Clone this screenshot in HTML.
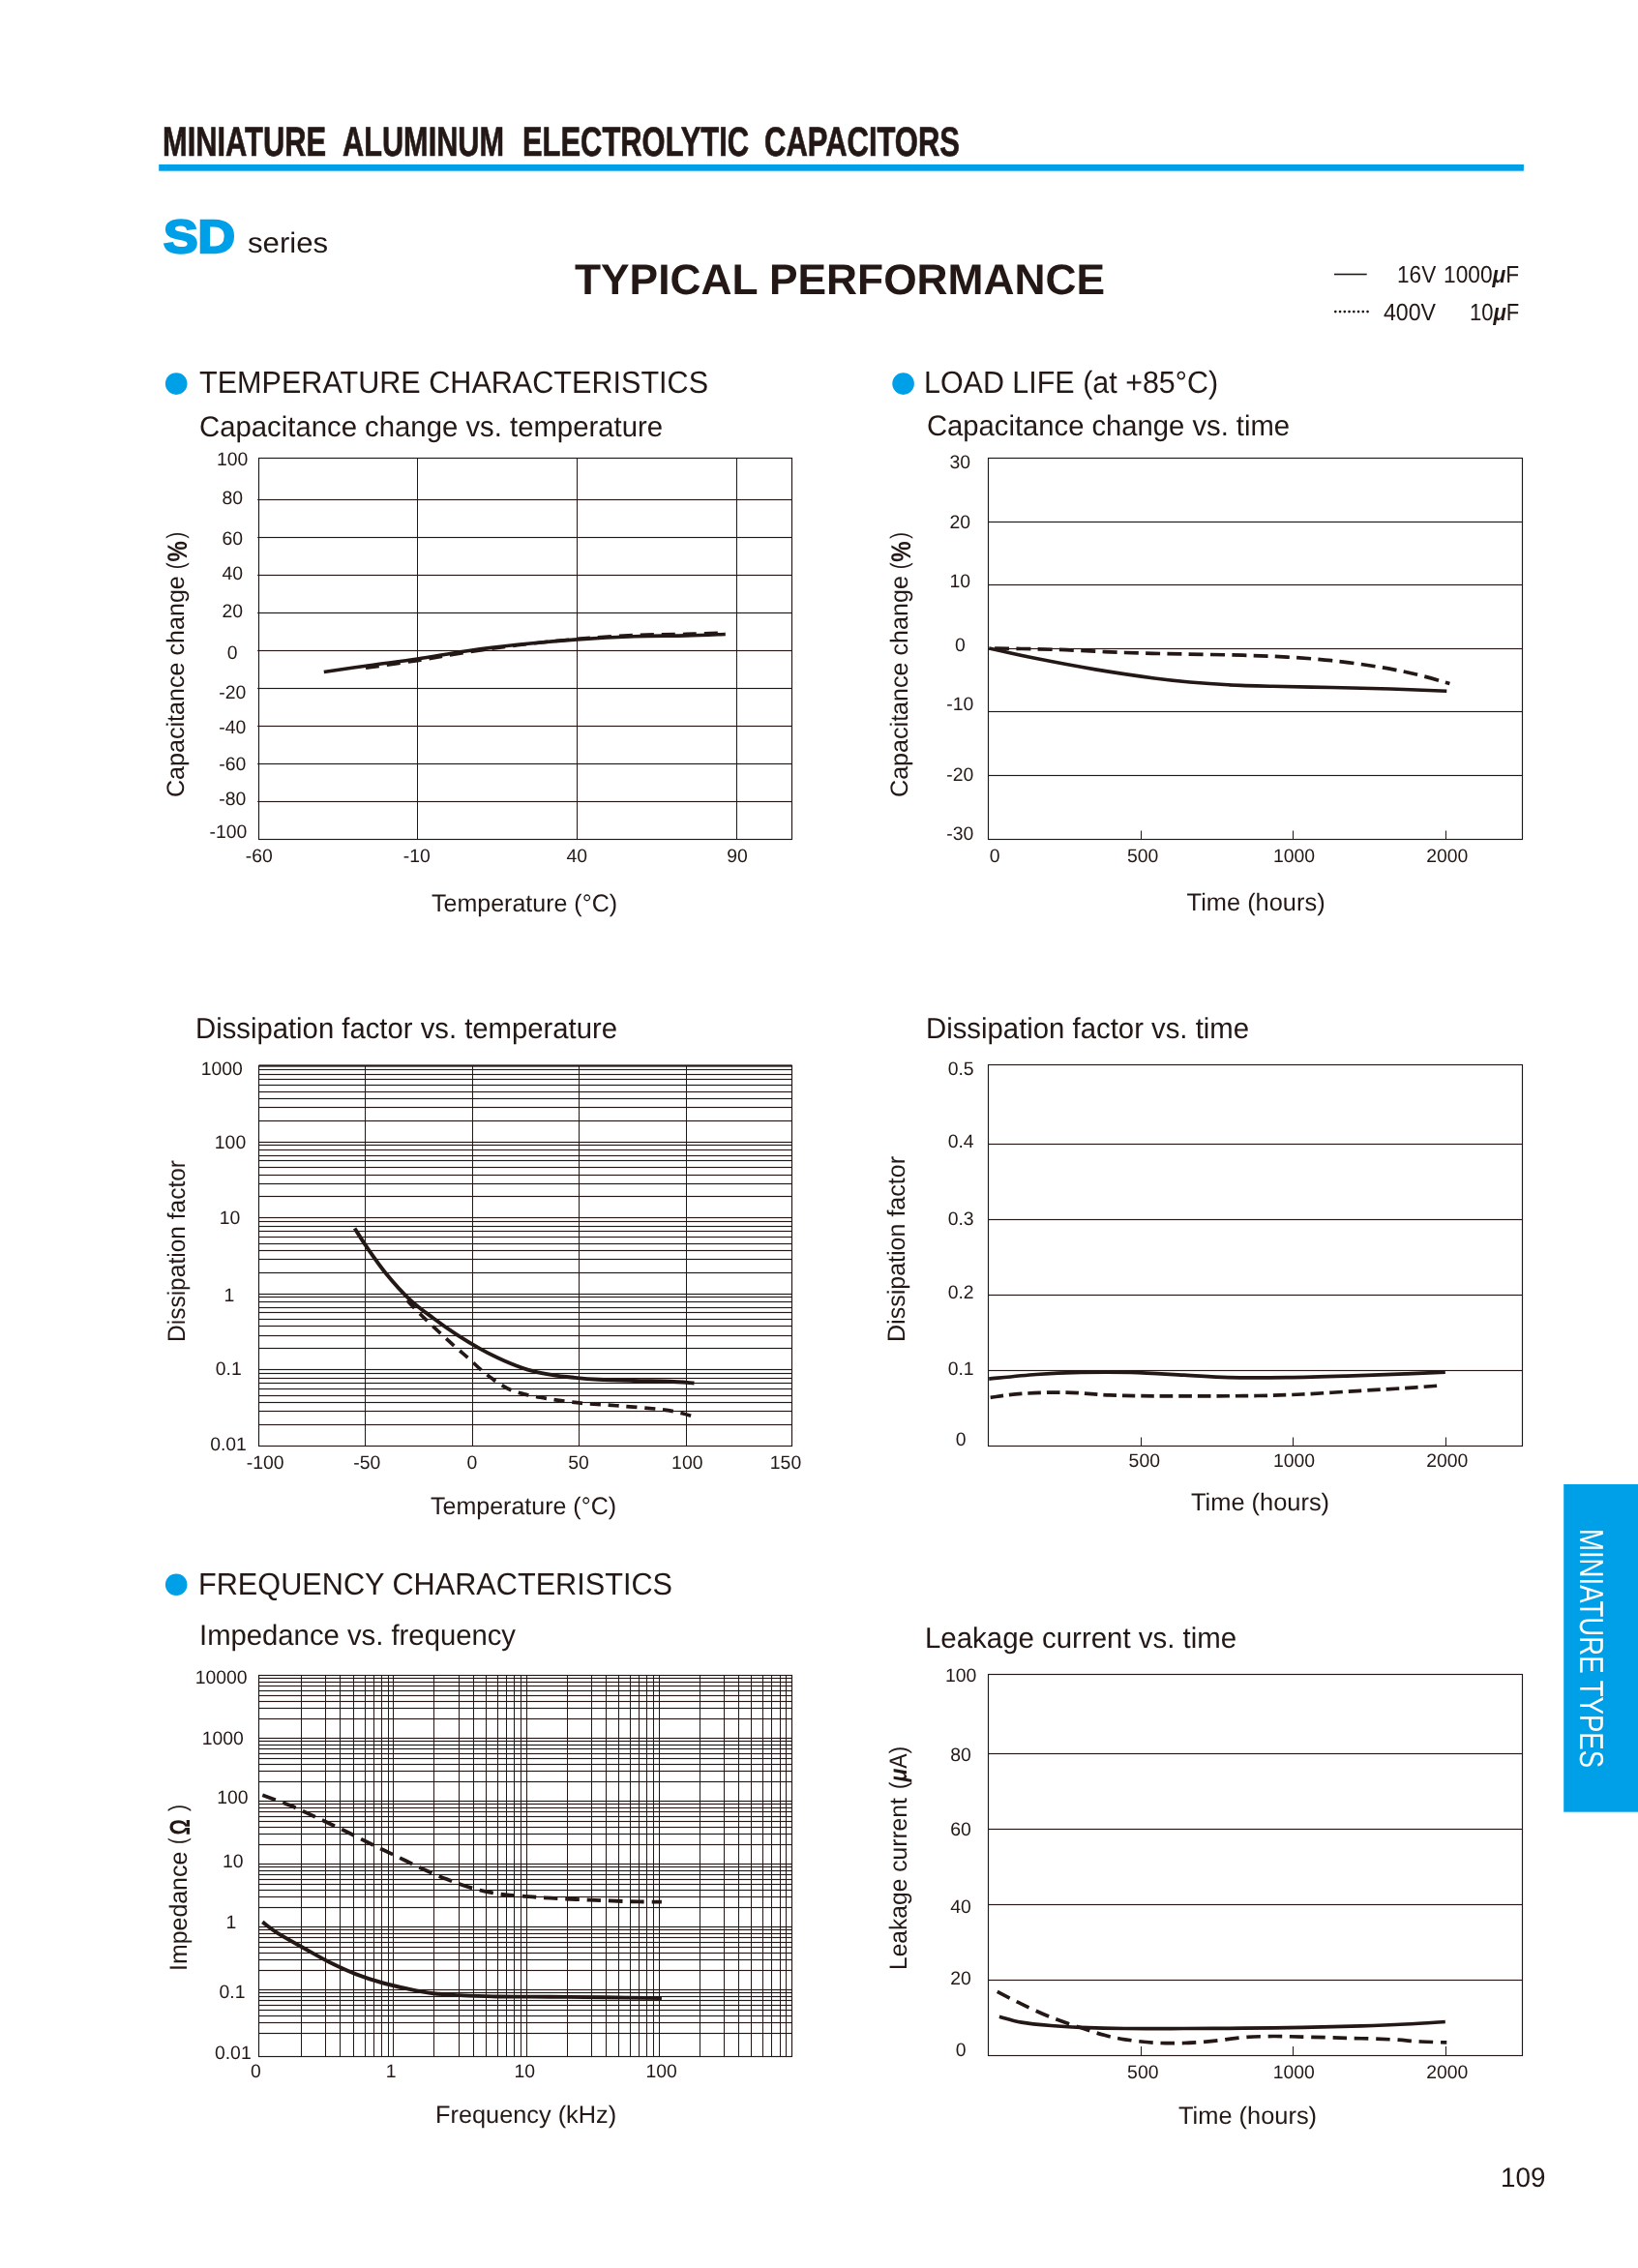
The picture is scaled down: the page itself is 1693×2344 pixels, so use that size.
<!DOCTYPE html>
<html><head><meta charset="utf-8"><title>SD series - Typical performance</title>
<style>html,body{margin:0;padding:0;background:#fff}svg{display:block;font-family:"Liberation Sans",sans-serif;will-change:transform;text-rendering:geometricPrecision}</style></head><body>
<svg width="1693" height="2344" viewBox="0 0 1693 2344">
<rect x="0" y="0" width="1693" height="2344" fill="#fff"/>
<g fill="#231815">
<text x="168" y="160.8" font-size="42.6" textLength="169.06" lengthAdjust="spacingAndGlyphs" font-weight="bold" stroke="#231815" stroke-width="0.7" stroke-linejoin="miter">MINIATURE</text>
<text x="354" y="160.8" font-size="42.6" textLength="167.06" lengthAdjust="spacingAndGlyphs" font-weight="bold" stroke="#231815" stroke-width="0.7" stroke-linejoin="miter">ALUMINUM</text>
<text x="540" y="160.8" font-size="42.6" textLength="234.05" lengthAdjust="spacingAndGlyphs" font-weight="bold" stroke="#231815" stroke-width="0.7" stroke-linejoin="miter">ELECTROLYTIC</text>
<text x="790" y="160.8" font-size="42.6" textLength="202.03" lengthAdjust="spacingAndGlyphs" font-weight="bold" stroke="#231815" stroke-width="0.7" stroke-linejoin="miter">CAPACITORS</text>
<rect x="164.2" y="169.9" width="1410.7" height="6.8" fill="#00a0e9"/>
<text x="169" y="261.4" font-size="48" textLength="74.04" lengthAdjust="spacingAndGlyphs" font-weight="bold" fill="#00a0e9" stroke="#00a0e9" stroke-width="2.4">SD</text>
<text x="256" y="261.2" font-size="29.6" textLength="83.14" lengthAdjust="spacingAndGlyphs">series</text>
<text x="594" y="304.1" font-size="44.2" textLength="548.01" lengthAdjust="spacingAndGlyphs" font-weight="bold">TYPICAL PERFORMANCE</text>
<rect x="1379" y="282.7" width="33.7" height="1.6"/>
<text x="1444" y="292.4" font-size="24.6" textLength="40.23" lengthAdjust="spacingAndGlyphs">16V</text>
<text x="1492" y="292.4" font-size="24.6" textLength="78.13" lengthAdjust="spacingAndGlyphs">1000<tspan font-style="italic" font-weight="bold">&#956;</tspan>F</text>
<circle cx="1380.3" cy="322.1" r="1.35" fill="#231815"/>
<circle cx="1385.05" cy="322.1" r="1.35" fill="#231815"/>
<circle cx="1389.8" cy="322.1" r="1.35" fill="#231815"/>
<circle cx="1394.55" cy="322.1" r="1.35" fill="#231815"/>
<circle cx="1399.3" cy="322.1" r="1.35" fill="#231815"/>
<circle cx="1404.05" cy="322.1" r="1.35" fill="#231815"/>
<circle cx="1408.8" cy="322.1" r="1.35" fill="#231815"/>
<circle cx="1413.55" cy="322.1" r="1.35" fill="#231815"/>
<text x="1430" y="330.5" font-size="24.6" textLength="54.06" lengthAdjust="spacingAndGlyphs">400V</text>
<text x="1519" y="330.5" font-size="24.6" textLength="51.23" lengthAdjust="spacingAndGlyphs">10<tspan font-style="italic" font-weight="bold">&#956;</tspan>F</text>
<circle cx="182.2" cy="396.6" r="11.3" fill="#00a0e9"/>
<text x="206" y="405.8" font-size="32" textLength="526.02" lengthAdjust="spacingAndGlyphs">TEMPERATURE CHARACTERISTICS</text>
<text x="206" y="450.5" font-size="29.8" textLength="479.05" lengthAdjust="spacingAndGlyphs">Capacitance change vs. temperature</text>
<circle cx="182.2" cy="1637.7" r="11.3" fill="#00a0e9"/>
<text x="205" y="1647.6" font-size="32" textLength="490.02" lengthAdjust="spacingAndGlyphs">FREQUENCY CHARACTERISTICS</text>
<text x="206" y="1699.6" font-size="29.8" textLength="327.01" lengthAdjust="spacingAndGlyphs">Impedance vs. frequency</text>
<circle cx="933.6" cy="396.6" r="11.3" fill="#00a0e9"/>
<text x="955" y="405.8" font-size="32" textLength="304.08" lengthAdjust="spacingAndGlyphs">LOAD LIFE (at +85&#176;C)</text>
<text x="958" y="450" font-size="29.8" textLength="375.05" lengthAdjust="spacingAndGlyphs">Capacitance change vs. time</text>
<text x="202" y="1072.9" font-size="30.2" textLength="436.02" lengthAdjust="spacingAndGlyphs">Dissipation factor vs. temperature</text>
<text x="957" y="1072.7" font-size="30.2" textLength="334.06" lengthAdjust="spacingAndGlyphs">Dissipation factor vs. time</text>
<text x="956" y="1702.6" font-size="30.2" textLength="322.05" lengthAdjust="spacingAndGlyphs">Leakage current vs. time</text>
<rect x="267.8" y="515.92" width="551" height="1.15"/>
<rect x="266.2" y="515.92" width="1.6" height="1.15"/>
<rect x="267.8" y="554.92" width="551" height="1.15"/>
<rect x="266.2" y="554.92" width="1.6" height="1.15"/>
<rect x="267.8" y="593.92" width="551" height="1.15"/>
<rect x="266.2" y="593.92" width="1.6" height="1.15"/>
<rect x="267.8" y="632.92" width="551" height="1.15"/>
<rect x="266.2" y="632.92" width="1.6" height="1.15"/>
<rect x="267.8" y="671.92" width="551" height="1.15"/>
<rect x="266.2" y="671.92" width="1.6" height="1.15"/>
<rect x="267.8" y="710.92" width="551" height="1.15"/>
<rect x="266.2" y="710.92" width="1.6" height="1.15"/>
<rect x="267.8" y="749.92" width="551" height="1.15"/>
<rect x="266.2" y="749.92" width="1.6" height="1.15"/>
<rect x="267.8" y="788.92" width="551" height="1.15"/>
<rect x="266.2" y="788.92" width="1.6" height="1.15"/>
<rect x="267.8" y="827.92" width="551" height="1.15"/>
<rect x="266.2" y="827.92" width="1.6" height="1.15"/>
<rect x="431" y="473.7" width="1" height="393.4"/>
<rect x="596" y="473.7" width="1" height="393.4"/>
<rect x="761" y="473.7" width="1" height="393.4"/>
<rect x="267.5" y="473.5" width="551" height="394" fill="none" stroke="#231815" stroke-width="1.15"/>
<text x="240.2" y="480.9" font-size="19.4" text-anchor="middle">100</text>
<text x="240.2" y="520.9" font-size="19.4" text-anchor="middle">80</text>
<text x="240.2" y="563" font-size="19.4" text-anchor="middle">60</text>
<text x="240.2" y="599.2" font-size="19.4" text-anchor="middle">40</text>
<text x="240.2" y="638.4" font-size="19.4" text-anchor="middle">20</text>
<text x="240.2" y="680.7" font-size="19.4" text-anchor="middle">0</text>
<text x="240.2" y="721.6" font-size="19.4" text-anchor="middle">-20</text>
<text x="240.2" y="758.3" font-size="19.4" text-anchor="middle">-40</text>
<text x="240.2" y="795.8" font-size="19.4" text-anchor="middle">-60</text>
<text x="240.2" y="832.4" font-size="19.4" text-anchor="middle">-80</text>
<text x="236" y="866.1" font-size="19.4" text-anchor="middle">-100</text>
<text x="267.8" y="891.3" font-size="19.4" text-anchor="middle">-60</text>
<text x="430.8" y="891.3" font-size="19.4" text-anchor="middle">-10</text>
<text x="596.2" y="891.3" font-size="19.4" text-anchor="middle">40</text>
<text x="762" y="891.3" font-size="19.4" text-anchor="middle">90</text>
<text x="446" y="941.8" font-size="25.3" textLength="192.06" lengthAdjust="spacingAndGlyphs">Temperature (&#176;C)</text>
<text x="190.4" y="824" font-size="25.3" textLength="228.85" lengthAdjust="spacingAndGlyphs" transform="rotate(-90 190.4 824)">Capacitance change</text>
<text x="190" y="588.16" font-size="25.3" textLength="6.79" lengthAdjust="spacingAndGlyphs" transform="rotate(-90 190 588.16)">(</text>
<text x="193" y="580.6" font-size="28.5" textLength="21.32" lengthAdjust="spacingAndGlyphs" font-weight="bold" transform="rotate(-90 193 580.6)">%</text>
<text x="190" y="556.62" font-size="25.3" textLength="6.79" lengthAdjust="spacingAndGlyphs" transform="rotate(-90 190 556.62)">)</text>
<path d="M334.8 694.5C342.63 693.37 365.68 689.95 381.8 687.7C397.92 685.45 414.93 683.45 431.5 681C448.07 678.55 463.97 675.45 481.2 673C498.43 670.55 515.65 668.32 534.9 666.3C554.15 664.28 576.55 662.33 596.7 660.9C616.85 659.47 637 658.37 655.8 657.7C674.6 657.03 693.83 657.27 709.5 656.9C725.17 656.53 743.08 655.73 749.8 655.5" fill="none" stroke="#231815" stroke-width="3.6"/>
<path d="M378 690.4C386.92 689.12 414.3 685.37 431.5 682.7C448.7 680.03 463.97 677.03 481.2 674.4C498.43 671.77 515.65 669.25 534.9 666.9C554.15 664.55 576.55 662.05 596.7 660.3C616.85 658.55 637 657.23 655.8 656.4C674.6 655.57 693.83 655.72 709.5 655.3C725.17 654.88 743.08 654.13 749.8 653.9" fill="none" stroke="#231815" stroke-width="3.4" stroke-dasharray="14 8"/>
<rect x="1021.6" y="538.92" width="551.9" height="1.15"/>
<rect x="1021.6" y="603.92" width="551.9" height="1.15"/>
<rect x="1021.6" y="669.92" width="551.9" height="1.15"/>
<rect x="1021.6" y="734.92" width="551.9" height="1.15"/>
<rect x="1021.6" y="800.92" width="551.9" height="1.15"/>
<rect x="1179" y="858.5" width="1" height="8.5"/>
<rect x="1336" y="858.5" width="1" height="8.5"/>
<rect x="1494" y="858.5" width="1" height="8.5"/>
<rect x="1021.5" y="473.5" width="552" height="394" fill="none" stroke="#231815" stroke-width="1.15"/>
<text x="992.3" y="483.8" font-size="19.4" text-anchor="middle">30</text>
<text x="992.3" y="545.9" font-size="19.4" text-anchor="middle">20</text>
<text x="992.3" y="607" font-size="19.4" text-anchor="middle">10</text>
<text x="992.3" y="672.7" font-size="19.4" text-anchor="middle">0</text>
<text x="992.3" y="734.4" font-size="19.4" text-anchor="middle">-10</text>
<text x="992.3" y="807" font-size="19.4" text-anchor="middle">-20</text>
<text x="992.3" y="868.1" font-size="19.4" text-anchor="middle">-30</text>
<text x="1028.2" y="891.3" font-size="19.4" text-anchor="middle">0</text>
<text x="1181.1" y="891.3" font-size="19.4" text-anchor="middle">500</text>
<text x="1337.5" y="891.3" font-size="19.4" text-anchor="middle">1000</text>
<text x="1495.8" y="891.3" font-size="19.4" text-anchor="middle">2000</text>
<text x="1226.6" y="941.1" font-size="25.3" textLength="143.03" lengthAdjust="spacingAndGlyphs">Time (hours)</text>
<text x="938" y="824" font-size="25.3" textLength="228.85" lengthAdjust="spacingAndGlyphs" transform="rotate(-90 938 824)">Capacitance change</text>
<text x="937.6" y="588.26" font-size="25.3" textLength="6.79" lengthAdjust="spacingAndGlyphs" transform="rotate(-90 937.6 588.26)">(</text>
<text x="940.6" y="580.7" font-size="28.5" textLength="21.32" lengthAdjust="spacingAndGlyphs" font-weight="bold" transform="rotate(-90 940.6 580.7)">%</text>
<text x="937.6" y="556.72" font-size="25.3" textLength="6.79" lengthAdjust="spacingAndGlyphs" transform="rotate(-90 937.6 556.72)">)</text>
<path d="M1022.2 669.9C1030.33 671.68 1052.68 676.93 1071 680.6C1089.32 684.27 1111.73 688.5 1132.1 691.9C1152.47 695.3 1176.92 698.82 1193.2 701C1209.48 703.18 1217.08 703.87 1229.8 705C1242.52 706.13 1255.25 707.08 1269.5 707.8C1283.75 708.52 1297.5 708.85 1315.3 709.3C1333.1 709.75 1355.95 710.05 1376.3 710.5C1396.65 710.95 1417.57 711.38 1437.4 712C1457.23 712.62 1485.65 713.83 1495.3 714.2" fill="none" stroke="#231815" stroke-width="3.6"/>
<path d="M1022.2 669.9C1027.8 670 1042.57 670.2 1055.8 670.5C1069.03 670.8 1083.8 671.03 1101.6 671.7C1119.4 672.37 1142.25 673.78 1162.6 674.5C1182.95 675.22 1203.35 675.55 1223.7 676C1244.05 676.45 1266.9 676.68 1284.7 677.2C1302.5 677.72 1315.23 678.18 1330.5 679.1C1345.77 680.02 1361.03 681.08 1376.3 682.7C1391.57 684.32 1407.85 686.5 1422.1 688.8C1436.35 691.1 1449.08 693.55 1461.8 696.5C1474.52 699.45 1492.3 704.83 1498.4 706.5" fill="none" stroke="#231815" stroke-width="3.7" stroke-dasharray="15 7.3" stroke-dashoffset="16.4"/>
<rect x="267.6" y="1104.92" width="551" height="1.15"/>
<rect x="267.6" y="1109.92" width="551" height="1.15"/>
<rect x="267.6" y="1114.92" width="551" height="1.15"/>
<rect x="267.6" y="1120.92" width="551" height="1.15"/>
<rect x="267.6" y="1127.92" width="551" height="1.15"/>
<rect x="267.6" y="1134.92" width="551" height="1.15"/>
<rect x="267.6" y="1143.92" width="551" height="1.15"/>
<rect x="267.6" y="1157.92" width="551" height="1.15"/>
<rect x="267.6" y="1179.92" width="551" height="1.15"/>
<rect x="267.6" y="1182.92" width="551" height="1.15"/>
<rect x="267.6" y="1187.92" width="551" height="1.15"/>
<rect x="267.6" y="1193.92" width="551" height="1.15"/>
<rect x="267.6" y="1198.92" width="551" height="1.15"/>
<rect x="267.6" y="1205.92" width="551" height="1.15"/>
<rect x="267.6" y="1213.92" width="551" height="1.15"/>
<rect x="267.6" y="1222.92" width="551" height="1.15"/>
<rect x="267.6" y="1235.92" width="551" height="1.15"/>
<rect x="267.6" y="1257.92" width="551" height="1.15"/>
<rect x="267.6" y="1261.92" width="551" height="1.15"/>
<rect x="267.6" y="1266.92" width="551" height="1.15"/>
<rect x="267.6" y="1271.92" width="551" height="1.15"/>
<rect x="267.6" y="1277.92" width="551" height="1.15"/>
<rect x="267.6" y="1284.92" width="551" height="1.15"/>
<rect x="267.6" y="1291.92" width="551" height="1.15"/>
<rect x="267.6" y="1300.92" width="551" height="1.15"/>
<rect x="267.6" y="1314.92" width="551" height="1.15"/>
<rect x="267.6" y="1336.92" width="551" height="1.15"/>
<rect x="267.6" y="1339.92" width="551" height="1.15"/>
<rect x="267.6" y="1344.92" width="551" height="1.15"/>
<rect x="267.6" y="1350.92" width="551" height="1.15"/>
<rect x="267.6" y="1355.92" width="551" height="1.15"/>
<rect x="267.6" y="1362.92" width="551" height="1.15"/>
<rect x="267.6" y="1369.92" width="551" height="1.15"/>
<rect x="267.6" y="1379.92" width="551" height="1.15"/>
<rect x="267.6" y="1392.92" width="551" height="1.15"/>
<rect x="267.6" y="1414.92" width="551" height="1.15"/>
<rect x="267.6" y="1418.92" width="551" height="1.15"/>
<rect x="267.6" y="1423.92" width="551" height="1.15"/>
<rect x="267.6" y="1428.92" width="551" height="1.15"/>
<rect x="267.6" y="1434.92" width="551" height="1.15"/>
<rect x="267.6" y="1441.92" width="551" height="1.15"/>
<rect x="267.6" y="1448.92" width="551" height="1.15"/>
<rect x="267.6" y="1457.92" width="551" height="1.15"/>
<rect x="267.6" y="1471.92" width="551" height="1.15"/>
<rect x="377" y="1101.1" width="1" height="393.2"/>
<rect x="488" y="1101.1" width="1" height="393.2"/>
<rect x="598" y="1101.1" width="1" height="393.2"/>
<rect x="709" y="1101.1" width="1" height="393.2"/>
<rect x="267.5" y="1101.5" width="551" height="393" fill="none" stroke="#231815" stroke-width="1.15"/>
<rect x="267.6" y="1100.4" width="551" height="2.2"/>
<text x="229.3" y="1110.8" font-size="19.4" text-anchor="middle">1000</text>
<text x="238" y="1187.4" font-size="19.4" text-anchor="middle">100</text>
<text x="237.5" y="1264.5" font-size="19.4" text-anchor="middle">10</text>
<text x="237" y="1345" font-size="19.4" text-anchor="middle">1</text>
<text x="236.3" y="1421.3" font-size="19.4" text-anchor="middle">0.1</text>
<text x="236" y="1498.9" font-size="19.4" text-anchor="middle">0.01</text>
<text x="274.2" y="1518.2" font-size="19.4" text-anchor="middle">-100</text>
<text x="379.2" y="1518.2" font-size="19.4" text-anchor="middle">-50</text>
<text x="488" y="1518.2" font-size="19.4" text-anchor="middle">0</text>
<text x="598.1" y="1518.2" font-size="19.4" text-anchor="middle">50</text>
<text x="710.3" y="1518.2" font-size="19.4" text-anchor="middle">100</text>
<text x="812" y="1518.2" font-size="19.4" text-anchor="middle">150</text>
<text x="445" y="1565" font-size="25.3" textLength="192.06" lengthAdjust="spacingAndGlyphs">Temperature (&#176;C)</text>
<text x="190.9" y="1387" font-size="25.3" textLength="188.05" lengthAdjust="spacingAndGlyphs" transform="rotate(-90 190.9 1387)">Dissipation factor</text>
<path d="M366.6 1269.5C368.72 1272.77 373.93 1281.37 379.3 1289.1C384.67 1296.83 391.47 1306.95 398.8 1315.9C406.13 1324.85 415.15 1335.07 423.3 1342.8C431.45 1350.53 439.57 1356.2 447.7 1362.3C455.83 1368.4 463.97 1374.1 472.1 1379.4C480.23 1384.7 488.37 1389.62 496.5 1394.1C504.63 1398.58 512.75 1402.72 520.9 1406.3C529.05 1409.88 537.25 1413.17 545.4 1415.6C553.55 1418.03 561.67 1419.52 569.8 1420.9C577.93 1422.28 586.07 1423.08 594.2 1423.9C602.33 1424.72 608.42 1425.28 618.6 1425.8C628.78 1426.32 643.08 1426.67 655.3 1427C667.52 1427.33 681.53 1427.38 691.9 1427.8C702.27 1428.22 713.23 1429.22 717.5 1429.5" fill="none" stroke="#231815" stroke-width="3.9"/>
<path d="M420.8 1344C423.25 1346.55 430.2 1354.05 435.5 1359.3C440.8 1364.55 446.9 1370.18 452.6 1375.5C458.3 1380.82 464.42 1386.48 469.7 1391.2C474.98 1395.92 479.42 1399.45 484.3 1403.8C489.18 1408.15 494.12 1413.22 499 1417.3C503.88 1421.38 508.72 1425.05 513.6 1428.3C518.48 1431.55 523 1434.57 528.3 1436.8C533.6 1439.03 539.3 1440.27 545.4 1441.7C551.5 1443.13 558.4 1444.3 564.9 1445.4C571.4 1446.5 577.48 1447.42 584.4 1448.3C591.32 1449.18 596.63 1449.88 606.4 1450.7C616.17 1451.52 629.97 1452.18 643 1453.2C656.03 1454.22 674.42 1455.58 684.6 1456.8C694.78 1458.02 698.62 1459.27 704.1 1460.5C709.58 1461.73 715.27 1463.58 717.5 1464.2" fill="none" stroke="#231815" stroke-width="3.7" stroke-dasharray="11 7.8"/>
<rect x="1021.4" y="1181.92" width="552.1" height="1.15"/>
<rect x="1021.4" y="1259.92" width="552.1" height="1.15"/>
<rect x="1021.4" y="1337.92" width="552.1" height="1.15"/>
<rect x="1021.4" y="1415.92" width="552.1" height="1.15"/>
<rect x="1179" y="1485.5" width="1" height="9"/>
<rect x="1336" y="1485.5" width="1" height="9"/>
<rect x="1494" y="1485.5" width="1" height="9"/>
<rect x="1021.5" y="1100.5" width="552" height="394" fill="none" stroke="#231815" stroke-width="1.15"/>
<text x="993.2" y="1110.6" font-size="19.4" text-anchor="middle">0.5</text>
<text x="993.2" y="1185.8" font-size="19.4" text-anchor="middle">0.4</text>
<text x="993.2" y="1266" font-size="19.4" text-anchor="middle">0.3</text>
<text x="993.2" y="1342.3" font-size="19.4" text-anchor="middle">0.2</text>
<text x="993.2" y="1421.3" font-size="19.4" text-anchor="middle">0.1</text>
<text x="993.2" y="1493.6" font-size="19.4" text-anchor="middle">0</text>
<text x="1182.8" y="1516.3" font-size="19.4" text-anchor="middle">500</text>
<text x="1337.5" y="1516.3" font-size="19.4" text-anchor="middle">1000</text>
<text x="1495.8" y="1516.3" font-size="19.4" text-anchor="middle">2000</text>
<text x="1231" y="1561.3" font-size="25.3" textLength="143.08" lengthAdjust="spacingAndGlyphs">Time (hours)</text>
<text x="935.1" y="1387" font-size="25.3" textLength="192.04" lengthAdjust="spacingAndGlyphs" transform="rotate(-90 935.1 1387)">Dissipation factor</text>
<path d="M1022.2 1425.1C1030.33 1424.33 1055.23 1421.62 1071 1420.5C1086.77 1419.38 1100.52 1418.75 1116.8 1418.4C1133.08 1418.05 1150.88 1417.95 1168.7 1418.4C1186.52 1418.85 1206.9 1420.23 1223.7 1421.1C1240.5 1421.97 1251.7 1423.18 1269.5 1423.6C1287.3 1424.02 1310.15 1423.85 1330.5 1423.6C1350.85 1423.35 1371.25 1422.72 1391.6 1422.1C1411.95 1421.48 1435.57 1420.57 1452.6 1419.9C1469.63 1419.23 1486.93 1418.4 1493.8 1418.1" fill="none" stroke="#231815" stroke-width="3.7"/>
<path d="M1023.7 1444.3C1029.05 1443.65 1042.82 1441.27 1055.8 1440.4C1068.78 1439.53 1086.33 1438.85 1101.6 1439.1C1116.87 1439.35 1132.13 1441.28 1147.4 1441.9C1162.67 1442.52 1175.4 1442.65 1193.2 1442.8C1211 1442.95 1236.4 1442.85 1254.2 1442.8C1272 1442.75 1284.73 1442.8 1300 1442.5C1315.27 1442.2 1328 1441.87 1345.8 1441C1363.6 1440.13 1389 1438.37 1406.8 1437.3C1424.6 1436.23 1438.6 1435.52 1452.6 1434.6C1466.6 1433.68 1484.43 1432.27 1490.8 1431.8" fill="none" stroke="#231815" stroke-width="3.7" stroke-dasharray="13.5 6"/>
<rect x="267.7" y="1733.92" width="551.2" height="1.15"/>
<rect x="267.7" y="1737.92" width="551.2" height="1.15"/>
<rect x="267.7" y="1741.92" width="551.2" height="1.15"/>
<rect x="267.7" y="1746.92" width="551.2" height="1.15"/>
<rect x="267.7" y="1751.92" width="551.2" height="1.15"/>
<rect x="267.7" y="1757.92" width="551.2" height="1.15"/>
<rect x="267.7" y="1764.92" width="551.2" height="1.15"/>
<rect x="267.7" y="1775.92" width="551.2" height="1.15"/>
<rect x="267.7" y="1795.92" width="551.2" height="1.15"/>
<rect x="267.7" y="1798.92" width="551.2" height="1.15"/>
<rect x="267.7" y="1802.92" width="551.2" height="1.15"/>
<rect x="267.7" y="1806.92" width="551.2" height="1.15"/>
<rect x="267.7" y="1811.92" width="551.2" height="1.15"/>
<rect x="267.7" y="1816.92" width="551.2" height="1.15"/>
<rect x="267.7" y="1822.92" width="551.2" height="1.15"/>
<rect x="267.7" y="1829.92" width="551.2" height="1.15"/>
<rect x="267.7" y="1840.92" width="551.2" height="1.15"/>
<rect x="267.7" y="1860.92" width="551.2" height="1.15"/>
<rect x="267.7" y="1863.92" width="551.2" height="1.15"/>
<rect x="267.7" y="1867.92" width="551.2" height="1.15"/>
<rect x="267.7" y="1871.92" width="551.2" height="1.15"/>
<rect x="267.7" y="1876.92" width="551.2" height="1.15"/>
<rect x="267.7" y="1881.92" width="551.2" height="1.15"/>
<rect x="267.7" y="1887.92" width="551.2" height="1.15"/>
<rect x="267.7" y="1894.92" width="551.2" height="1.15"/>
<rect x="267.7" y="1905.92" width="551.2" height="1.15"/>
<rect x="267.7" y="1925.92" width="551.2" height="1.15"/>
<rect x="267.7" y="1928.92" width="551.2" height="1.15"/>
<rect x="267.7" y="1932.92" width="551.2" height="1.15"/>
<rect x="267.7" y="1936.92" width="551.2" height="1.15"/>
<rect x="267.7" y="1941.92" width="551.2" height="1.15"/>
<rect x="267.7" y="1946.92" width="551.2" height="1.15"/>
<rect x="267.7" y="1952.92" width="551.2" height="1.15"/>
<rect x="267.7" y="1959.92" width="551.2" height="1.15"/>
<rect x="267.7" y="1970.92" width="551.2" height="1.15"/>
<rect x="267.7" y="1990.92" width="551.2" height="1.15"/>
<rect x="267.7" y="1993.92" width="551.2" height="1.15"/>
<rect x="267.7" y="1997.92" width="551.2" height="1.15"/>
<rect x="267.7" y="2001.92" width="551.2" height="1.15"/>
<rect x="267.7" y="2006.92" width="551.2" height="1.15"/>
<rect x="267.7" y="2011.92" width="551.2" height="1.15"/>
<rect x="267.7" y="2017.92" width="551.2" height="1.15"/>
<rect x="267.7" y="2024.92" width="551.2" height="1.15"/>
<rect x="267.7" y="2035.92" width="551.2" height="1.15"/>
<rect x="267.7" y="2055.93" width="551.2" height="1.15"/>
<rect x="267.7" y="2058.93" width="551.2" height="1.15"/>
<rect x="267.7" y="2062.93" width="551.2" height="1.15"/>
<rect x="267.7" y="2066.93" width="551.2" height="1.15"/>
<rect x="267.7" y="2071.93" width="551.2" height="1.15"/>
<rect x="267.7" y="2076.93" width="551.2" height="1.15"/>
<rect x="267.7" y="2082.93" width="551.2" height="1.15"/>
<rect x="267.7" y="2089.93" width="551.2" height="1.15"/>
<rect x="267.7" y="2100.93" width="551.2" height="1.15"/>
<rect x="311" y="1731.4" width="1" height="393.8"/>
<rect x="336" y="1731.4" width="1" height="393.8"/>
<rect x="351" y="1731.4" width="1" height="393.8"/>
<rect x="365" y="1731.4" width="1" height="393.8"/>
<rect x="377" y="1731.4" width="1" height="393.8"/>
<rect x="386" y="1731.4" width="1" height="393.8"/>
<rect x="394" y="1731.4" width="1" height="393.8"/>
<rect x="401" y="1731.4" width="1" height="393.8"/>
<rect x="406" y="1731.4" width="1" height="393.8"/>
<rect x="448" y="1731.4" width="1" height="393.8"/>
<rect x="474" y="1731.4" width="1" height="393.8"/>
<rect x="489" y="1731.4" width="1" height="393.8"/>
<rect x="502" y="1731.4" width="1" height="393.8"/>
<rect x="514" y="1731.4" width="1" height="393.8"/>
<rect x="523" y="1731.4" width="1" height="393.8"/>
<rect x="531" y="1731.4" width="1" height="393.8"/>
<rect x="538" y="1731.4" width="1" height="393.8"/>
<rect x="544" y="1731.4" width="1" height="393.8"/>
<rect x="586" y="1731.4" width="1" height="393.8"/>
<rect x="611" y="1731.4" width="1" height="393.8"/>
<rect x="626" y="1731.4" width="1" height="393.8"/>
<rect x="639" y="1731.4" width="1" height="393.8"/>
<rect x="651" y="1731.4" width="1" height="393.8"/>
<rect x="660" y="1731.4" width="1" height="393.8"/>
<rect x="668" y="1731.4" width="1" height="393.8"/>
<rect x="675" y="1731.4" width="1" height="393.8"/>
<rect x="681" y="1731.4" width="1" height="393.8"/>
<rect x="723" y="1731.4" width="1" height="393.8"/>
<rect x="748" y="1731.4" width="1" height="393.8"/>
<rect x="763" y="1731.4" width="1" height="393.8"/>
<rect x="776" y="1731.4" width="1" height="393.8"/>
<rect x="788" y="1731.4" width="1" height="393.8"/>
<rect x="797" y="1731.4" width="1" height="393.8"/>
<rect x="806" y="1731.4" width="1" height="393.8"/>
<rect x="812" y="1731.4" width="1" height="393.8"/>
<rect x="267.5" y="1731.5" width="551" height="394" fill="none" stroke="#231815" stroke-width="1.15"/>
<text x="228.6" y="1740.4" font-size="19.4" text-anchor="middle">10000</text>
<text x="230.2" y="1803.3" font-size="19.4" text-anchor="middle">1000</text>
<text x="240.4" y="1863.6" font-size="19.4" text-anchor="middle">100</text>
<text x="240.8" y="1929.9" font-size="19.4" text-anchor="middle">10</text>
<text x="238.8" y="1992.6" font-size="19.4" text-anchor="middle">1</text>
<text x="240" y="2064.5" font-size="19.4" text-anchor="middle">0.1</text>
<text x="240.8" y="2127.5" font-size="19.4" text-anchor="middle">0.01</text>
<text x="264.5" y="2147.4" font-size="19.4" text-anchor="middle">0</text>
<text x="404.1" y="2147.4" font-size="19.4" text-anchor="middle">1</text>
<text x="542.2" y="2147.4" font-size="19.4" text-anchor="middle">10</text>
<text x="683.6" y="2147.4" font-size="19.4" text-anchor="middle">100</text>
<text x="450" y="2193.5" font-size="25.3" textLength="187.14" lengthAdjust="spacingAndGlyphs">Frequency (kHz)</text>
<text x="192.6" y="2037" font-size="25.3" textLength="123.28" lengthAdjust="spacingAndGlyphs" transform="rotate(-90 192.6 2037)">Impedance</text>
<text x="192.2" y="1906.09" font-size="25.3" textLength="6.41" lengthAdjust="spacingAndGlyphs" transform="rotate(-90 192.2 1906.09)">(</text>
<text x="195.7" y="1896.44" font-size="29.5" textLength="16.37" lengthAdjust="spacingAndGlyphs" font-weight="bold" transform="rotate(-90 195.7 1896.44)">&#937;</text>
<text x="192.2" y="1871.93" font-size="25.3" textLength="7.16" lengthAdjust="spacingAndGlyphs" transform="rotate(-90 192.2 1871.93)">)</text>
<path d="M271.3 1855.3C276.13 1857.1 290.98 1862.25 300.3 1866.1C309.62 1869.95 318.25 1874.25 327.2 1878.4C336.15 1882.55 345.05 1886.65 354 1891C362.95 1895.35 371.95 1900.1 380.9 1904.5C389.85 1908.9 398.75 1913.07 407.7 1917.4C416.65 1921.73 425.63 1926.38 434.6 1930.5C443.57 1934.62 452.55 1938.6 461.5 1942.1C470.45 1945.6 479.35 1948.95 488.3 1951.5C497.25 1954.05 506.25 1956.02 515.2 1957.4C524.15 1958.78 533.05 1959.08 542 1959.8C550.95 1960.52 557.7 1961.07 568.9 1961.7C580.1 1962.33 595.77 1963.02 609.2 1963.6C622.63 1964.18 637.05 1964.85 649.5 1965.2C661.95 1965.55 678.17 1965.62 683.9 1965.7" fill="none" stroke="#231815" stroke-width="3.8" stroke-dasharray="14.4 7.9"/>
<path d="M271.3 1986.4C273.9 1988.32 279.83 1993.43 286.9 1997.9C293.97 2002.37 304.75 2008.18 313.7 2013.2C322.65 2018.22 331.65 2023.52 340.6 2028C349.55 2032.48 358.45 2036.6 367.4 2040.1C376.35 2043.6 385.33 2046.45 394.3 2049C403.27 2051.55 412.25 2053.52 421.2 2055.4C430.15 2057.28 439.05 2059.18 448 2060.3C456.95 2061.42 463.7 2061.57 474.9 2062.1C486.1 2062.63 499.53 2063.23 515.2 2063.5C530.87 2063.77 551 2063.57 568.9 2063.7C586.8 2063.83 603.43 2064.07 622.6 2064.3C641.77 2064.53 673.68 2064.97 683.9 2065.1" fill="none" stroke="#231815" stroke-width="3.9"/>
<rect x="1021.3" y="1811.92" width="552.1" height="1.15"/>
<rect x="1021.3" y="1889.92" width="552.1" height="1.15"/>
<rect x="1021.3" y="1967.92" width="552.1" height="1.15"/>
<rect x="1021.3" y="2045.92" width="552.1" height="1.15"/>
<rect x="1179" y="2115" width="1" height="9.5"/>
<rect x="1336" y="2115" width="1" height="9.5"/>
<rect x="1494" y="2115" width="1" height="9.5"/>
<rect x="1021.5" y="1730.5" width="552" height="394" fill="none" stroke="#231815" stroke-width="1.15"/>
<text x="993.1" y="1737.8" font-size="19.4" text-anchor="middle">100</text>
<text x="993.1" y="1819.5" font-size="19.4" text-anchor="middle">80</text>
<text x="993.1" y="1896.8" font-size="19.4" text-anchor="middle">60</text>
<text x="993.1" y="1976.8" font-size="19.4" text-anchor="middle">40</text>
<text x="993.1" y="2051.3" font-size="19.4" text-anchor="middle">20</text>
<text x="993.1" y="2125.2" font-size="19.4" text-anchor="middle">0</text>
<text x="1181.3" y="2148.4" font-size="19.4" text-anchor="middle">500</text>
<text x="1337.3" y="2148.4" font-size="19.4" text-anchor="middle">1000</text>
<text x="1495.8" y="2148.4" font-size="19.4" text-anchor="middle">2000</text>
<text x="1218" y="2194.5" font-size="25.3" textLength="143.08" lengthAdjust="spacingAndGlyphs">Time (hours)</text>
<text x="937.2" y="2036" font-size="25.3" textLength="177.85" lengthAdjust="spacingAndGlyphs" transform="rotate(-90 937.2 2036)">Leakage current</text>
<text x="937.2" y="1849.2" font-size="25.3" textLength="44.26" lengthAdjust="spacingAndGlyphs" transform="rotate(-90 937.2 1849.2)">(<tspan font-style="italic" font-weight="bold">&#956;</tspan>A)</text>
<path d="M1032.9 2084.3C1036.72 2085.27 1046.9 2088.57 1055.8 2090.1C1064.7 2091.63 1076.13 2092.63 1086.3 2093.5C1096.47 2094.37 1104.08 2094.8 1116.8 2095.3C1129.52 2095.8 1144.78 2096.3 1162.6 2096.5C1180.42 2096.7 1203.35 2096.55 1223.7 2096.5C1244.05 2096.45 1264.35 2096.4 1284.7 2096.2C1305.05 2096 1325.45 2095.7 1345.8 2095.3C1366.15 2094.9 1389 2094.35 1406.8 2093.8C1424.6 2093.25 1438.1 2092.72 1452.6 2092C1467.1 2091.28 1486.93 2089.92 1493.8 2089.5" fill="none" stroke="#231815" stroke-width="3.7"/>
<path d="M1030.8 2058.4C1034.97 2060.53 1046.55 2066.78 1055.8 2071.2C1065.05 2075.62 1076.13 2080.83 1086.3 2084.9C1096.47 2088.97 1107.63 2092.53 1116.8 2095.6C1125.97 2098.67 1133.67 2101.27 1141.3 2103.3C1148.93 2105.33 1153.95 2106.48 1162.6 2107.8C1171.25 2109.12 1183.02 2110.58 1193.2 2111.2C1203.38 2111.82 1213.53 2111.8 1223.7 2111.5C1233.87 2111.2 1244.03 2110.37 1254.2 2109.4C1264.37 2108.43 1274.52 2106.52 1284.7 2105.7C1294.88 2104.88 1305.12 2104.6 1315.3 2104.5C1325.48 2104.4 1333.08 2104.8 1345.8 2105.1C1358.52 2105.4 1376.33 2105.85 1391.6 2106.3C1406.87 2106.75 1424.68 2107.18 1437.4 2107.8C1450.12 2108.42 1458.25 2109.48 1467.9 2110C1477.55 2110.52 1490.73 2110.75 1495.3 2110.9" fill="none" stroke="#231815" stroke-width="3.7" stroke-dasharray="14.5 7.8"/>
<rect x="1616.2" y="1534" width="76.8" height="338.7" fill="#00a0e9"/>
<text x="1632.6" y="1580" font-size="34.6" textLength="247.07" lengthAdjust="spacingAndGlyphs" fill="#ffffff" transform="rotate(90 1632.6 1580)">MINIATURE TYPES</text>
<text x="1551" y="2259.6" font-size="28.2" textLength="46.37" lengthAdjust="spacingAndGlyphs">109</text>
</g></svg></body></html>
